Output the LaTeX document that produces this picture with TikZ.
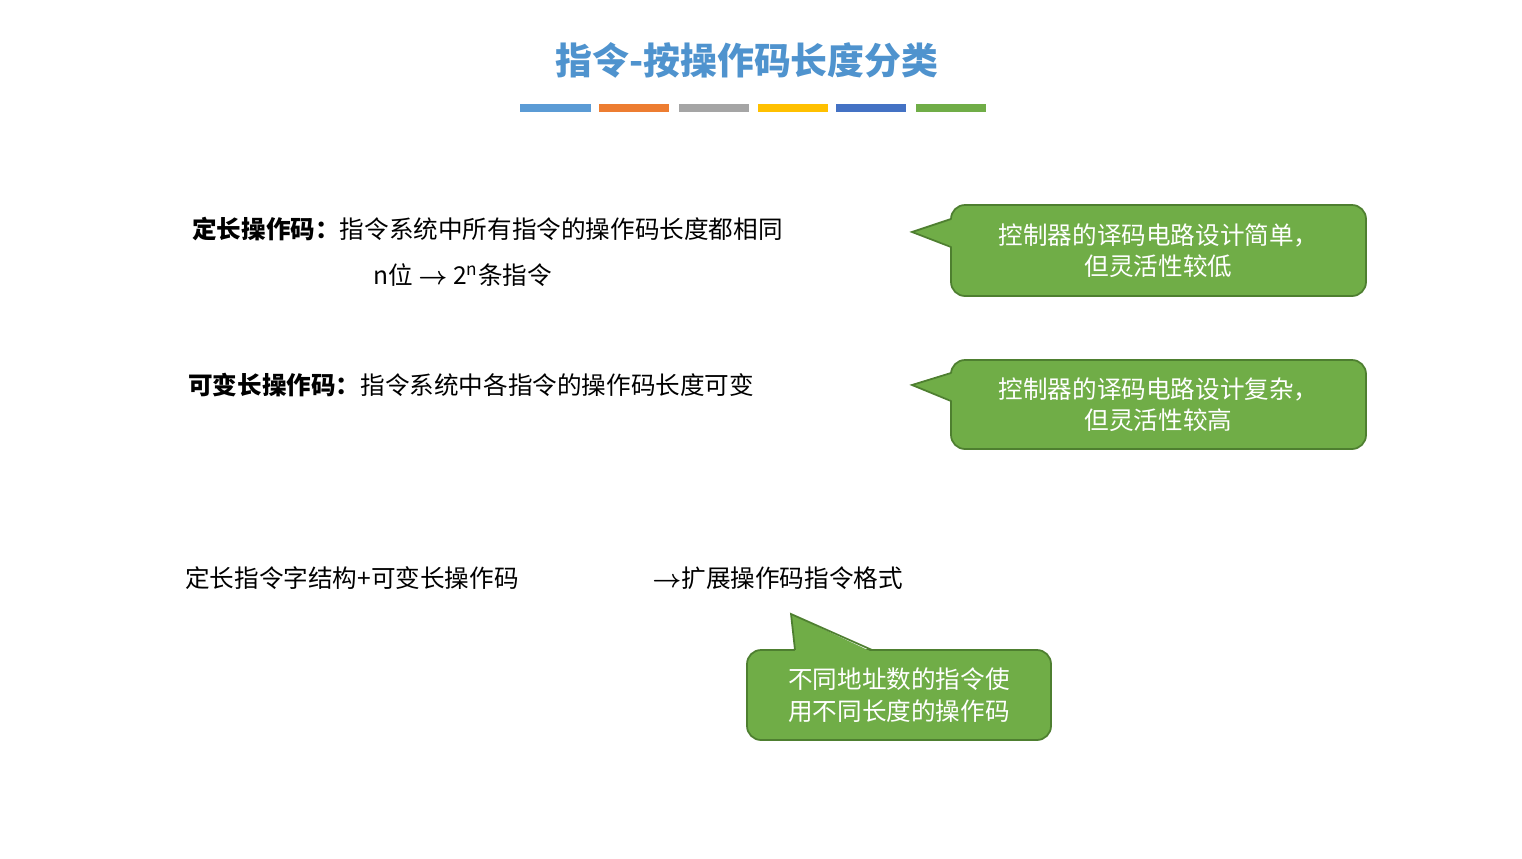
\documentclass[tikz,border=0pt]{standalone}
\usepackage{fontspec}
\setmainfont{Noto Sans CJK SC}
\usepackage{amsmath}
\definecolor{tblue}{HTML}{4F93CE}
\definecolor{gfill}{HTML}{70AD47}
\definecolor{gline}{HTML}{4E7F30}
\definecolor{c1}{HTML}{5B9BD5}\definecolor{c2}{HTML}{ED7D31}\definecolor{c3}{HTML}{A5A5A5}
\definecolor{c4}{HTML}{FFC000}\definecolor{c5}{HTML}{4472C4}\definecolor{c6}{HTML}{70AD47}
\begin{document}
\begin{tikzpicture}[x=0.02cm,y=-0.02cm,
  body/.style={anchor=west,inner sep=0,font=\fontsize{14}{17}\selectfont},
  gbox/.style={draw=gline,line width=1pt,fill=gfill,rounded corners=8pt,text=white,
     align=center,font=\fontsize{14}{18}\selectfont},
  bar/.style={line width=5pt}]
\useasboundingbox (0,0) rectangle (1522,859);
\fill[white] (0,0) rectangle (1522,859);
\node[text=tblue,font=\fontsize{21}{25}\selectfont\bfseries] (title) at (747,60) {指令-按操作码长度分类};
\foreach \a/\b/\c [count=\i] in {520/591/c1,599/669/c2,679/749/c3,758/828/c4,836/906/c5,916/986/c6}
  \draw[bar,\c] (\a,108) coordinate (b\i) -- (\b,108);
\node[body] (t1) at (192,229) {\textbf{定长操作码：}指令系统中所有指令的操作码长度都相同};
\node[body] (t2) at (373,275) {n位 $\boldsymbol{\rightarrow}$ 2\textsuperscript{n}条指令};
\node[body] (t3) at (188,385) {\textbf{可变长操作码：}指令系统中各指令的操作码长度可变};
\node[body] (t4) at (185,578) {定长指令字结构+可变长操作码};
\node[body] (t5) at (652,578) {$\boldsymbol{\rightarrow}$扩展操作码指令格式};
% callouts
\node[gbox,minimum width=415*0.02cm,minimum height=91*0.02cm] (g1) at (1158.5,250.5) {控制器的译码电路设计简单，\\但灵活性较低};
\coordinate (p1) at (912,232);
\fill[gfill] (p1) -- (953,219) -- (953,247) -- cycle;
\draw[gline,line width=1pt] (951,219) -- (p1) -- (951,247);
\node[gbox,minimum width=415*0.02cm,minimum height=89*0.02cm] (g2) at (1158.5,404.5) {控制器的译码电路设计复杂，\\但灵活性较高};
\coordinate (p2) at (912,385);
\fill[gfill] (p2) -- (953,373) -- (953,401) -- cycle;
\draw[gline,line width=1pt] (951,373) -- (p2) -- (951,401);
\node[gbox,minimum width=304*0.02cm,minimum height=90*0.02cm] (g3) at (899,695) {不同地址数的指令使\\用不同长度的操作码};
\coordinate (p3) at (791,614);
\fill[gfill] (p3) -- (795,652) -- (872,652) -- cycle;
\draw[gline,line width=1pt] (795,650) -- (p3) -- (872,650);
\end{tikzpicture}
\end{document}
